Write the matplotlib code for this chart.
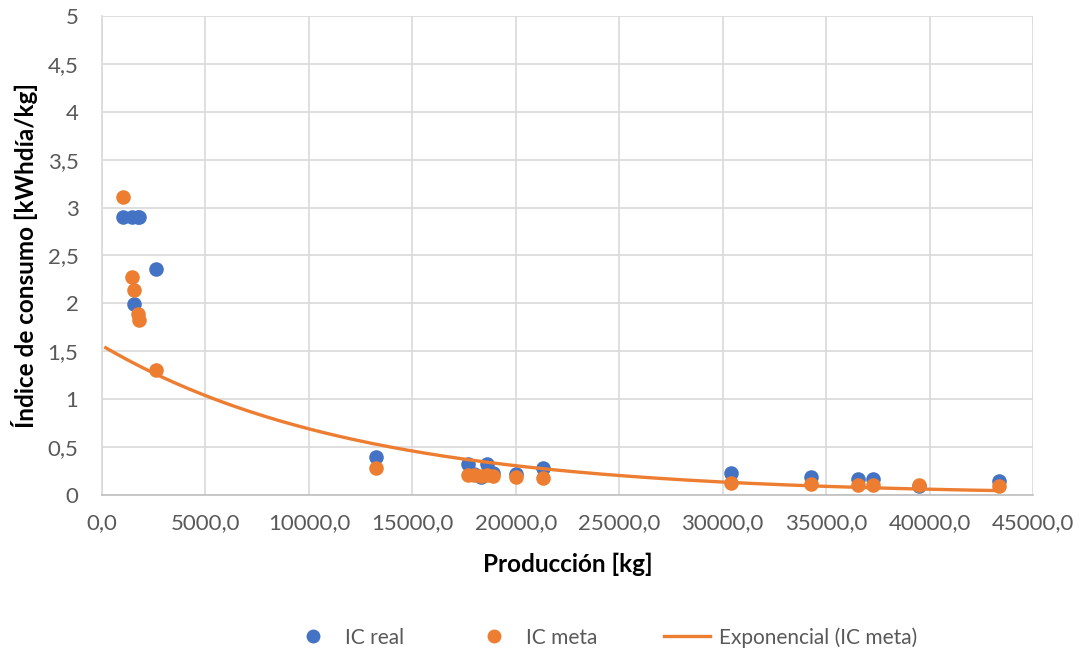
import numpy as np
import matplotlib.pyplot as plt
from matplotlib.ticker import FuncFormatter, MultipleLocator
from matplotlib.lines import Line2D

# producción [kg] y índices de consumo
produccion = [1030, 1435, 1547, 1760, 1800, 2595, 13240, 17700, 18000, 18300,
              18600, 18900, 20000, 21300, 30400, 34250, 36550, 37280, 39500, 43370]
ic_real = [2.90, 2.90, 1.99, 2.90, 2.90, 2.36, 0.40, 0.32, 0.22, 0.19,
           0.32, 0.23, 0.22, 0.28, 0.23, 0.19, 0.17, 0.17, 0.09, 0.15]
ic_meta = [3.11, 2.28, 2.14, 1.89, 1.83, 1.30, 0.28, 0.21, 0.21, 0.20,
           0.21, 0.20, 0.19, 0.18, 0.13, 0.11, 0.10, 0.10, 0.10, 0.09]

azul = '#4472C4'
naranja = '#ED7D31'
gris = '#595959'

x = np.array(produccion, dtype=float)
y_meta = np.array(ic_meta)

# tendencia exponencial y = a*exp(b*x), ajuste sobre ln(y)
b, ln_a = np.polyfit(x, np.log(y_meta), 1)
x_tend = np.linspace(x.min() - 850, x.max(), 300)
y_tend = np.exp(ln_a) * np.exp(b * x_tend)

plt.rcParams['font.family'] = ['Lato', 'DejaVu Sans']

fig = plt.figure(figsize=(10.81, 6.55), dpi=100)
ax = fig.add_axes([0.0944, 0.2443, 0.8612, 0.7313])

ax.scatter(x, ic_real, s=110, color=azul, zorder=3, linewidths=0)
ax.scatter(x, ic_meta, s=110, color=naranja, zorder=4, linewidths=0)
ax.plot(x_tend, y_tend, color=naranja, lw=2.4, zorder=5)

ax.set_xlim(0, 45000)
ax.set_ylim(0, 5)
ax.xaxis.set_major_locator(MultipleLocator(5000))
ax.yaxis.set_major_locator(MultipleLocator(0.5))
ax.xaxis.set_major_formatter(FuncFormatter(lambda v, p: f'{v:.1f}'.replace('.', ',')))
ax.yaxis.set_major_formatter(FuncFormatter(lambda v, p: f'{v:g}'.replace('.', ',')))

ax.grid(True, color='#d9d9d9', lw=1.2, zorder=0)
ax.set_axisbelow(True)
for lado in ['top', 'right']:
    ax.spines[lado].set_visible(False)
ax.spines['left'].set_color('#d9d9d9')
ax.spines['bottom'].set_color('#bfbfbf')
ax.spines['left'].set_linewidth(1.2)
ax.spines['bottom'].set_linewidth(1.2)
ax.tick_params(length=0, labelsize=16, labelcolor=gris)
ax.tick_params(axis='x', pad=13)
ax.tick_params(axis='y', pad=17)

ax.set_xlabel('Producción [kg]', fontsize=17.5, fontweight='bold', labelpad=14)
ax.set_ylabel('Índice de consumo [kWhdía/kg]', fontsize=17.5, fontweight='bold', labelpad=7)

handles = [
    Line2D([], [], ls='none', marker='o', ms=10, color=azul, mew=0),
    Line2D([], [], ls='none', marker='o', ms=10, color=naranja, mew=0),
    Line2D([], [], color=naranja, lw=2.4),
]
fig.legend(handles, ['IC real', 'IC meta', 'Exponencial (IC meta)'],
           loc='center', bbox_to_anchor=(0.558, 0.027), ncol=3, frameon=False,
           fontsize=15, labelcolor=gris, handlelength=2.25, handletextpad=0.4,
           columnspacing=3.2)

fig.savefig('out.png', dpi=100)
